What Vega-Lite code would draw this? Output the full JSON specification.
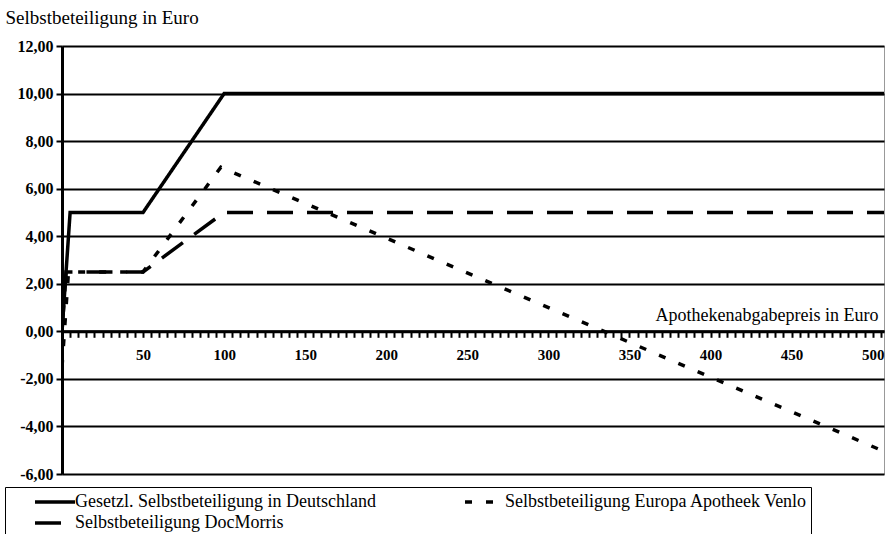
{
  "$schema": "https://vega.github.io/schema/vega-lite/v6.json",
  "width": 822,
  "height": 428,
  "autosize": {"type": "none"},
  "padding": {"left": 62, "top": 46, "right": 2, "bottom": 60},
  "background": "white",
  "config": {
    "font": "Liberation Serif",
    "view": {"stroke": "#999999", "strokeWidth": 1}
  },
  "data": {
    "values": [
      {"preis": 0, "wert": 0, "serie": "Gesetzl. Selbstbeteiligung in Deutschland"},
      {"preis": 5, "wert": 5, "serie": "Gesetzl. Selbstbeteiligung in Deutschland"},
      {"preis": 50, "wert": 5, "serie": "Gesetzl. Selbstbeteiligung in Deutschland"},
      {"preis": 100, "wert": 10, "serie": "Gesetzl. Selbstbeteiligung in Deutschland"},
      {"preis": 507, "wert": 10, "serie": "Gesetzl. Selbstbeteiligung in Deutschland"},
      {"preis": 0, "wert": -1.5, "serie": "Selbstbeteiligung Europa Apotheek Venlo"},
      {"preis": 4, "wert": 2.5, "serie": "Selbstbeteiligung Europa Apotheek Venlo"},
      {"preis": 50, "wert": 2.5, "serie": "Selbstbeteiligung Europa Apotheek Venlo"},
      {"preis": 98, "wert": 6.9, "serie": "Selbstbeteiligung Europa Apotheek Venlo"},
      {"preis": 507, "wert": -5.05, "serie": "Selbstbeteiligung Europa Apotheek Venlo"},
      {"preis": 0, "wert": 0, "serie": "Selbstbeteiligung DocMorris"},
      {"preis": 2.5, "wert": 2.5, "serie": "Selbstbeteiligung DocMorris"},
      {"preis": 50, "wert": 2.5, "serie": "Selbstbeteiligung DocMorris"},
      {"preis": 100, "wert": 5, "serie": "Selbstbeteiligung DocMorris"},
      {"preis": 507, "wert": 5, "serie": "Selbstbeteiligung DocMorris"}
    ]
  },
  "mark": {"type": "line", "color": "black", "strokeWidth": 3.5, "clip": true},
  "encoding": {
    "x": {
      "field": "preis",
      "type": "quantitative",
      "scale": {"domain": [0, 507], "nice": false, "zero": false},
      "axis": {
        "orient": "bottom",
        "offset": -142.7,
        "tickCount": 101,
        "grid": false,
        "domainColor": "black",
        "domainWidth": 3,
        "tickColor": "black",
        "tickWidth": 2,
        "tickSize": 6,
        "labelOverlap": false,
        "labelFlush": false,
        "labelExpr": "(datum.value % 50 === 0 && datum.value > 0) ? datum.value : ''",
        "labelFont": "Liberation Serif",
        "labelFontSize": 15,
        "labelFontWeight": "bold",
        "labelColor": "black",
        "labelPadding": 10,
        "title": "Apothekenabgabepreis in Euro",
        "titleFont": "Liberation Serif",
        "titleFontSize": 18,
        "titleFontWeight": "normal",
        "titleColor": "black",
        "titleAnchor": "end",
        "titleAlign": "right",
        "titleBaseline": "alphabetic",
        "titleX": 816,
        "titleY": -11
      }
    },
    "y": {
      "field": "wert",
      "type": "quantitative",
      "scale": {"domain": [-6, 12], "nice": false, "zero": false},
      "axis": {
        "values": [-6, -4, -2, 0, 2, 4, 6, 8, 10, 12],
        "grid": true,
        "gridColor": "black",
        "gridWidth": 2,
        "gridOpacity": 1,
        "domainColor": "black",
        "domainWidth": 3,
        "tickColor": "black",
        "tickWidth": 2,
        "tickSize": 6,
        "labelExpr": "replace(replace(format(datum.value, '.2f'), '.', ','), '\u2212', '-')",
        "labelFont": "Liberation Serif",
        "labelFontSize": 16,
        "labelFontWeight": "bold",
        "labelColor": "black",
        "labelPadding": 3,
        "title": "Selbstbeteiligung in Euro",
        "titleFont": "Liberation Serif",
        "titleFontSize": 19,
        "titleFontWeight": "normal",
        "titleColor": "black",
        "titleAngle": 0,
        "titleAlign": "left",
        "titleBaseline": "alphabetic",
        "titleX": -57,
        "titleY": -23
      }
    },
    "strokeDash": {
      "field": "serie",
      "type": "nominal",
      "scale": {
        "domain": [
          "Gesetzl. Selbstbeteiligung in Deutschland",
          "Selbstbeteiligung Europa Apotheek Venlo",
          "Selbstbeteiligung DocMorris"
        ],
        "range": [[1, 0], [7, 14], [26, 14]]
      },
      "legend": {
        "title": null,
        "orient": "none",
        "direction": "horizontal",
        "columns": 2,
        "legendX": -57,
        "legendY": 441,
        "padding": 3,
        "strokeColor": "black",
        "symbolType": "M-2,0H2",
        "symbolSize": 400,
        "symbolStrokeColor": "black",
        "symbolStrokeWidth": 3.5,
        "symbolOffset": 35,
        "labelOffset": 8,
        "labelFont": "Liberation Serif",
        "labelFontSize": 18,
        "labelColor": "black",
        "labelLimit": 500,
        "columnPadding": 62,
        "rowPadding": 0
      }
    }
  }
}
